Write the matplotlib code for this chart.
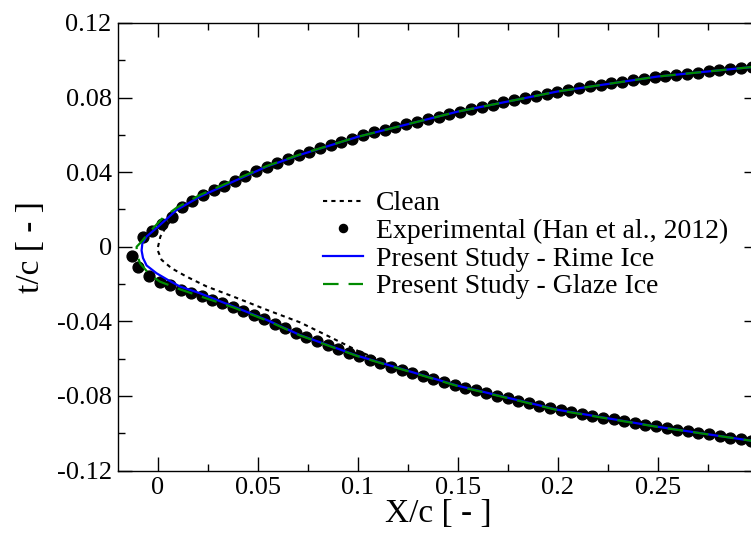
import matplotlib
matplotlib.use("Agg")
import matplotlib.pyplot as plt
from matplotlib.ticker import FixedLocator, FixedFormatter, MultipleLocator

plt.rcParams["font.family"] = ["Liberation Serif", "DejaVu Serif"]

# ---- profile data (X/c, t/c) ----
# clean airfoil, upper TE -> leading edge -> lower TE
clean_x = [0.3, 0.2, 0.1, 0.0544, 0.021, 0.0094, 0.0045, 0.0012, -0.0003, 0.0018, 0.0068,
           0.0143, 0.0244, 0.0377, 0.0544, 0.071, 0.085, 0.1, 0.12, 0.14, 0.17, 0.2, 0.25, 0.3]
clean_y = [0.0967, 0.0833, 0.059, 0.043, 0.0266, 0.0178, 0.0115, 0.0055, -0.0015, -0.007, -0.0115,
           -0.016, -0.0213, -0.0267, -0.0338, -0.0405, -0.0478, -0.0558, -0.0648, -0.0718, -0.0808,
           -0.0873, -0.0964, -0.1044]

# rime ice shape
rime_x = [0.3, 0.25, 0.2, 0.15, 0.1, 0.071, 0.0544, 0.0377, 0.021, 0.0094, 0.001, -0.0057, -0.0078,
          -0.0082, -0.0075, -0.0057, -0.0007, 0.005, 0.011, 0.021, 0.0377, 0.0544, 0.071, 0.1, 0.15,
          0.2, 0.25, 0.3]
rime_y = [0.0967, 0.0913, 0.0833, 0.0725, 0.059, 0.0493, 0.043, 0.035, 0.0269, 0.0198, 0.0117, 0.0055,
          0.002, -0.002, -0.006, -0.0100, -0.0142, -0.0178, -0.0213, -0.0249, -0.032, -0.0392, -0.0473,
          -0.0585, -0.0745, -0.0874, -0.0965, -0.1045]

# glaze ice shape
glaze_x = [0.3, 0.25, 0.2, 0.15, 0.1, 0.071, 0.0544, 0.0377, 0.021, 0.0094, 0.0027, -0.0048, -0.0082,
           -0.0107, -0.0105, -0.009, -0.004, 0.001, 0.011, 0.021, 0.0377, 0.0544, 0.071, 0.1, 0.15,
           0.2, 0.25, 0.3]
glaze_y = [0.0967, 0.0913, 0.0833, 0.0725, 0.059, 0.0495, 0.0433, 0.0356, 0.0278, 0.021, 0.0158, 0.0073,
           0.0028, 0.0, -0.004, -0.0088, -0.0151, -0.0187, -0.0228, -0.0265, -0.0325, -0.0395, -0.0475,
           -0.0587, -0.0747, -0.0876, -0.0966, -0.1045]

# experimental ice shape (Han et al., 2012)
exp_up_x = [-0.0073, -0.0032, 0.0018, 0.0068, 0.0120, 0.0172, 0.0225, 0.0278, 0.0331, 0.0384, 0.0437,
            0.049, 0.0543, 0.0596, 0.065, 0.0703, 0.0757, 0.081, 0.0864, 0.0918, 0.0971, 0.1025, 0.108,
            0.1134, 0.1188, 0.1242, 0.1296, 0.135, 0.1404, 0.1458, 0.1512, 0.1566, 0.162, 0.1674, 0.1728,
            0.1782, 0.1836, 0.189, 0.1944, 0.1998, 0.2052, 0.2106, 0.216, 0.2214, 0.2268, 0.2322, 0.2376,
            0.243, 0.2484, 0.2538, 0.2592, 0.2646, 0.27, 0.2754, 0.2808, 0.2862, 0.2916, 0.297]
exp_up_y = [0.0051, 0.0085, 0.0123, 0.0162, 0.0215, 0.0246, 0.0277, 0.0303, 0.0328, 0.0353, 0.0379,
            0.0404, 0.043, 0.0451, 0.0471, 0.0491, 0.0509, 0.0528, 0.0545, 0.0563, 0.058, 0.0597, 0.0613,
            0.0628, 0.0643, 0.0657, 0.0671, 0.0685, 0.0698, 0.0711, 0.0724, 0.0738, 0.0751, 0.0763, 0.0775,
            0.0787, 0.0798, 0.0809, 0.082, 0.0831, 0.0842, 0.0852, 0.0861, 0.087, 0.0878, 0.0886, 0.0894,
            0.0901, 0.0909, 0.0916, 0.0922, 0.0928, 0.0934, 0.094, 0.0946, 0.0952, 0.0958, 0.0964]
exp_lo_x = [-0.0128, -0.0098, -0.0043, 0.001, 0.0062, 0.0114, 0.0166, 0.0218, 0.027, 0.0322, 0.0374,
            0.0426, 0.0478, 0.053, 0.0583, 0.0636, 0.0689, 0.0742, 0.0795, 0.0848, 0.0901, 0.0954, 0.1007,
            0.106, 0.1113, 0.1166, 0.1219, 0.1272, 0.1325, 0.1378, 0.1431, 0.1484, 0.1537, 0.159, 0.1643,
            0.1696, 0.1749, 0.1802, 0.1855, 0.1908, 0.1961, 0.2014, 0.2067, 0.212, 0.2173, 0.2226, 0.2279,
            0.2332, 0.2385, 0.2438, 0.2491, 0.2544, 0.2597, 0.265, 0.2703, 0.2756, 0.2809, 0.2862, 0.2915,
            0.2968]
exp_lo_y = [-0.0049, -0.011, -0.0156, -0.0187, -0.0207, -0.023, -0.0247, -0.0265, -0.0284, -0.0304,
            -0.0324, -0.0345, -0.0367, -0.0389, -0.0413, -0.0438, -0.0463, -0.0485, -0.0506, -0.0526,
            -0.0547, -0.0567, -0.0587, -0.0606, -0.0624, -0.0642, -0.066, -0.0677, -0.0694, -0.071,
            -0.0726, -0.0741, -0.0755, -0.077, -0.0784, -0.0798, -0.0812, -0.0825, -0.0838, -0.0851,
            -0.0864, -0.0877, -0.0886, -0.0896, -0.0906, -0.0916, -0.0925, -0.0935, -0.0945, -0.0954,
            -0.0963, -0.0972, -0.098, -0.0989, -0.0997, -0.1006, -0.1014, -0.1023, -0.1031, -0.104]

x_ticks = [0, 0.05, 0.1, 0.15, 0.2, 0.25]
x_ticklabels = ["0", "0.05", "0.1", "0.15", "0.2", "0.25"]
y_ticks = [-0.12, -0.08, -0.04, 0, 0.04, 0.08, 0.12]
y_ticklabels = ["-0.12", "-0.08", "-0.04", "0", "0.04", "0.08", "0.12"]

fig = plt.figure(figsize=(7.51, 5.34), dpi=100)
# right spine sits just past the edge of the canvas
ax = fig.add_axes([118 / 751, 63.4 / 534, 639.7 / 751, 447.6 / 534])

ax.plot(exp_up_x + exp_lo_x, exp_up_y + exp_lo_y, ls="none", marker="o", ms=7.8,
        color="black", zorder=2, label="Experimental (Han et al., 2012)")
ax.plot(clean_x, clean_y, color="black", lw=1.5, ls=(0, (2, 2)), zorder=3, label="Clean")
ax.plot(rime_x, rime_y, color="#0000ff", lw=1.6, zorder=4, label="Present Study - Rime Ice")
ax.plot(glaze_x, glaze_y, color="#008a00", lw=1.6, ls=(0, (7, 4.5)), zorder=5,
        label="Present Study - Glaze Ice")

ax.set_xlim(-0.02, 0.3)
ax.set_ylim(-0.12, 0.12)
ax.xaxis.set_major_locator(FixedLocator(x_ticks))
ax.xaxis.set_major_formatter(FixedFormatter(x_ticklabels))
ax.yaxis.set_major_locator(FixedLocator(y_ticks))
ax.yaxis.set_major_formatter(FixedFormatter(y_ticklabels))
ax.xaxis.set_minor_locator(MultipleLocator(0.025))
ax.yaxis.set_minor_locator(MultipleLocator(0.02))
ax.tick_params(which="both", direction="in", top=True, right=True, width=1.0,
               labelsize=19, pad=4.5)
ax.tick_params(which="major", length=10)
ax.tick_params(which="minor", length=5)
for sp in ax.spines.values():
    sp.set_linewidth(1.0)

ax.set_xlabel("X/c [ - ]", fontsize=24, labelpad=0)
ax.set_ylabel("t/c [ - ]", fontsize=24, labelpad=8)

h, l = ax.get_legend_handles_labels()
order = [1, 0, 2, 3]
ax.legend([h[i] for i in order], [l[i] for i in order], loc="upper left",
          bbox_to_anchor=(0.3205, 0.625), frameon=False, borderpad=0, borderaxespad=0,
          handlelength=1.45, handletextpad=0.45, labelspacing=0.08, fontsize=20, numpoints=1,
          markerscale=0.75)

fig.savefig("out.png", dpi=100)
